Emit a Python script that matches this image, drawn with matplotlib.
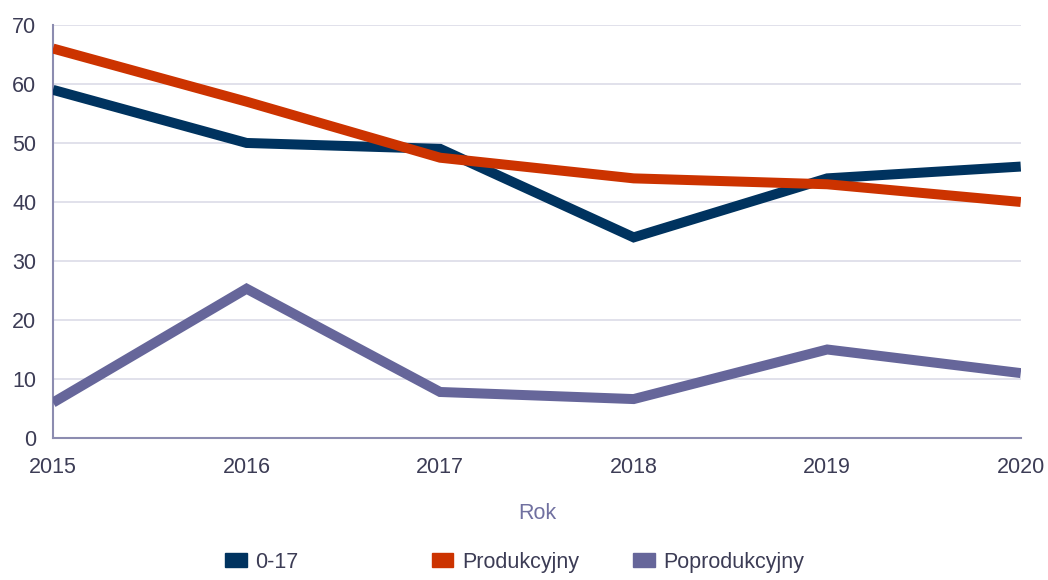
import matplotlib.pyplot as plt
from matplotlib.patches import Patch

plt.rcParams['font.family'] = ['Liberation Sans', 'DejaVu Sans']

# data
years = [2015, 2016, 2017, 2018, 2019, 2020]
age_0_17 = [59, 50, 49, 34, 44, 46]
produkcyjny = [66, 57, 47.5, 44, 43, 40]
poprodukcyjny = [6, 25.3, 7.8, 6.6, 15, 11]

series = [("0-17", age_0_17, "#00335f"),
          ("Produkcyjny", produkcyjny, "#cc3300"),
          ("Poprodukcyjny", poprodukcyjny, "#66669a")]

text_color = "#3c3c55"

fig = plt.figure(figsize=(10.48, 5.8), dpi=100)
ax = fig.add_axes([0.0506, 0.2448, 0.9234, 0.7122])

for label, values, color in series:
    ax.plot(years, values, color=color, linewidth=7.2, solid_capstyle="butt",
            solid_joinstyle="miter", zorder=3)

ax.set_xlim(2015, 2020)
ax.set_ylim(0, 70)
ax.set_yticks(range(0, 71, 10))
ax.set_xticks(years)

ax.grid(axis="y", color="#dcdce8", linewidth=1.2, zorder=0)
for side in ["top", "right"]:
    ax.spines[side].set_visible(False)
ax.spines["left"].set_color("#8c8cb0")
ax.spines["bottom"].set_color("#8c8cb0")
ax.spines["left"].set_linewidth(1.5)
ax.spines["bottom"].set_linewidth(1.5)

ax.tick_params(axis="both", length=0, labelsize=15.5, labelcolor=text_color)
ax.tick_params(axis="y", pad=12)
ax.tick_params(axis="x", pad=14)

ax.set_xlabel("Rok", fontsize=15.5, color="#7070a0", labelpad=18)

# legend entries sit at fixed slots along the bottom
legend_x = [0.2147, 0.412, 0.604]
for (label, _, color), x in zip(series, legend_x):
    fig.legend([Patch(facecolor=color, edgecolor=color)], [label],
               loc="center left", bbox_to_anchor=(x, 0.031), frameon=False,
               fontsize=15.5, handlelength=1.0, handleheight=0.6,
               handletextpad=0.4, borderpad=0, borderaxespad=0,
               labelcolor=text_color)

fig.savefig("out.png", dpi=100)
